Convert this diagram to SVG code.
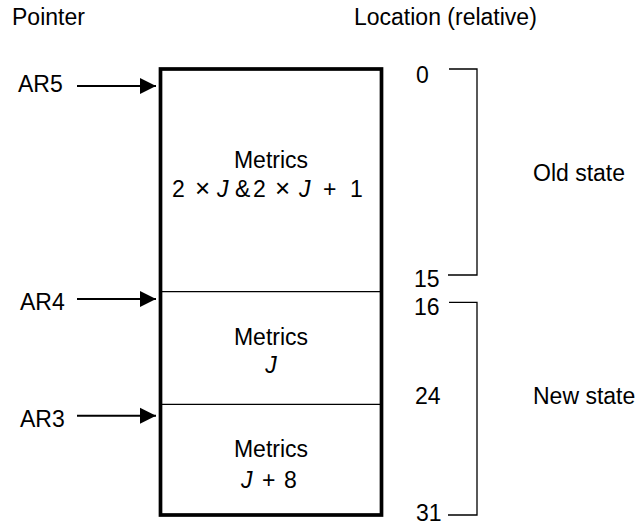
<svg xmlns="http://www.w3.org/2000/svg" width="643" height="526" viewBox="0 0 643 526">
<defs>
<style>
text{font-family:"Liberation Sans",Arial,sans-serif;font-size:23px;fill:#000}
.mid{text-anchor:middle}
.it{font-style:italic}
.op{font-size:26px}
.thin{stroke:#000;stroke-width:1.3;fill:none}
.arrow{stroke:#000;stroke-width:2;fill:none}
</style>
<marker id="ah" markerWidth="18" markerHeight="18" viewBox="0 0 18 18" refX="16" refY="9" orient="auto" markerUnits="userSpaceOnUse">
<path d="M0,1 L16,9 L0,17 Z" fill="#000"/>
</marker>
</defs>
<rect width="643" height="526" fill="#fff"/>
<g id="headers">
<text x="12" y="25">Pointer</text>
<text x="354" y="25">Location (relative)</text>
</g>
<g id="memory">
<rect x="160.5" y="69" width="221" height="446" fill="none" stroke="#000" stroke-width="3.7"/>
<line class="thin" x1="160.5" y1="291.7" x2="381.5" y2="291.7"/>
<line class="thin" x1="160.5" y1="404.3" x2="381.5" y2="404.3"/>
</g>
<g id="block-old">
<text class="mid" x="271" y="168">Metrics</text>
<text y="197"><tspan x="172">2</tspan><tspan x="195" class="op">×</tspan><tspan x="217" class="it">J</tspan><tspan x="235">&amp;</tspan><tspan x="253">2</tspan><tspan x="275" class="op">×</tspan><tspan x="299" class="it">J</tspan><tspan x="323">+</tspan><tspan x="350">1</tspan></text>
</g>
<g id="block-j">
<text class="mid" x="271" y="344.5">Metrics</text>
<text class="mid it" x="271" y="373">J</text>
</g>
<g id="block-j8">
<text class="mid" x="271" y="457.3">Metrics</text>
<text y="487.5"><tspan x="241" class="it">J</tspan><tspan x="262">+</tspan><tspan x="284">8</tspan></text>
</g>
<g id="pointers">
<text x="18" y="92.3">AR5</text>
<text x="20" y="310">AR4</text>
<text x="20" y="426.7">AR3</text>
</g>
<g id="connectors">
<line class="arrow" x1="77" y1="86" x2="156" y2="86" marker-end="url(#ah)"/>
<line class="arrow" x1="77" y1="299" x2="156" y2="299" marker-end="url(#ah)"/>
<line class="arrow" x1="77" y1="415.7" x2="156" y2="415.7" marker-end="url(#ah)"/>
</g>
<g id="locations">
<text x="416" y="83">0</text>
<text x="414" y="287.3">15</text>
<text x="414" y="315">16</text>
<text x="415" y="404">24</text>
<text x="416" y="521">31</text>
</g>
<g id="brackets">
<polyline class="thin" points="449,69 477,69 477,275 448,275"/>
<polyline class="thin" points="449,302.3 477,302.3 477,515 448,515"/>
</g>
<g id="states">
<text x="533" y="181">Old state</text>
<text x="533" y="404.3">New state</text>
</g>
</svg>
